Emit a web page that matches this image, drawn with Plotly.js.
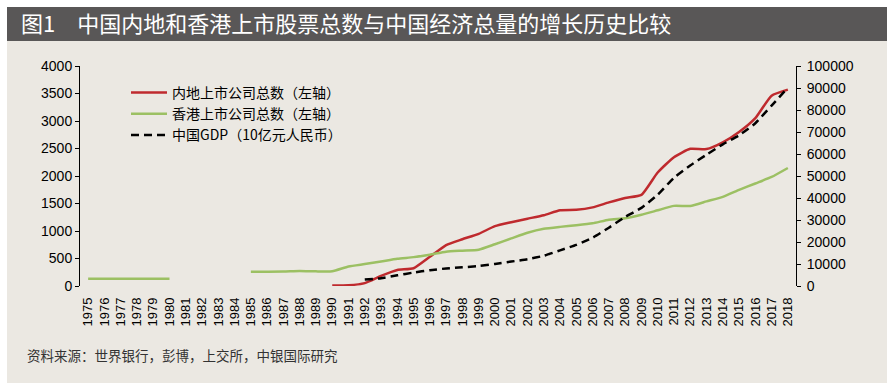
<!DOCTYPE html>
<html>
<head>
<meta charset="utf-8">
<script src="https://cdn.plot.ly/plotly-3.0.1.min.js"></script>
<style>
html,body{margin:0;padding:0;background:#ffffff;}
#chart{width:891px;height:383px;}
</style>
</head>
<body>
<div id="chart"></div>
<script>
const years = ['1975','1976','1977','1978','1979','1980','1981','1982','1983','1984','1985','1986','1987','1988','1989','1990','1991','1992','1993','1994','1995','1996','1997','1998','1999','2000','2001','2002','2003','2004','2005','2006','2007','2008','2009','2010','2011','2012','2013','2014','2015','2016','2017','2018'];

const mainlandListed = [null,null,null,null,null,null,null,null,null,null,null,null,null,null,null,
  10,14,53,183,291,323,530,745,851,949,1088,1160,1224,1287,1377,1385,1430,1520,1600,1656,2063,2342,2494,2489,2613,2800,3052,3460,3570];

const hongkongListed = [130,130,130,130,130,130,null,null,null,null,
  259,260,262,275,266,267,355,398,445,494,525,570,624,643,661,760,865,968,1040,1075,1104,1140,1204,1231,1294,1376,1457,1455,1538,1620,1747,1864,1982,2145];

const chinaGDP = [null,null,null,null,null,null,null,null,null,null,null,null,null,null,null,null,null,
  2900,3570,4860,6130,7180,7970,8520,9060,10030,11090,12170,13740,16180,18730,21940,26500,31400,35500,41500,49200,54800,59700,64400,68500,74000,82000,90100];

const seriesNames = ['内地上市公司总数（左轴）','香港上市公司总数（左轴）','中国GDP（10亿元人民币）'];
const titleText = '图1\u3000中国内地和香港上市股票总数与中国经济总量的增长历史比较';
const sourceText = '资料来源：世界银行，彭博，上交所，中银国际研究';

const FONT = 'Liberation Sans, Arial, Noto Sans CJK SC, sans-serif';
const CJK = 'Noto Sans CJK SC, sans-serif';

const traces = [
  {x: years, y: mainlandListed, name: seriesNames[0], type: 'scatter', mode: 'lines',
   line: {color: '#bf2a2e', width: 2.5, shape: 'spline', smoothing: 0.5}, connectgaps: false},
  {x: years, y: hongkongListed, name: seriesNames[1], type: 'scatter', mode: 'lines',
   line: {color: '#9cc063', width: 2.5, shape: 'spline', smoothing: 0.5}, connectgaps: false},
  {x: years, y: chinaGDP, name: seriesNames[2], type: 'scatter', mode: 'lines', yaxis: 'y2',
   line: {color: '#000000', width: 2.5, dash: '8px,5px', shape: 'spline', smoothing: 0.5}, connectgaps: false}
];

// pixel helpers for frame shapes (plot area: x 80..796, y 66..286)
const L = 80, R = 796, T = 66, B = 286;
const px = v => (v - L) / (R - L);
const py = v => (B - v) / (B - T);

const layout = {
  width: 891, height: 383,
  margin: {l: L, r: 891 - R, t: T, b: 383 - B, pad: 0},
  paper_bgcolor: '#ebe8e2',
  plot_bgcolor: 'rgba(0,0,0,0)',
  font: {family: FONT, color: '#000', size: 13},
  showlegend: true,
  title: {
    text: titleText,
    font: {family: CJK, size: 22, color: '#ffffff'},
    x: 21 / 891, xanchor: 'left', xref: 'container',
    y: 1 - 24 / 383, yanchor: 'middle', yref: 'container'
  },
  xaxis: {
    type: 'category', range: [-0.5, 43.5],
    tickangle: -90, ticks: '', showline: false, showgrid: false, zeroline: false,
    ticklabelstandoff: 8,
    tickfont: {size: 13, family: FONT, color: '#000'}
  },
  yaxis: {
    range: [0, 4000], dtick: 500, tick0: 0, tickformat: 'd',
    showline: true, linecolor: '#000', linewidth: 1,
    ticks: 'outside', ticklen: 4, tickcolor: '#000', tickwidth: 1,
    showgrid: false, zeroline: false,
    tickfont: {size: 14, family: FONT, color: '#000'}
  },
  yaxis2: {
    overlaying: 'y', side: 'right',
    range: [0, 100000], dtick: 10000, tick0: 0, tickformat: 'd',
    showline: true, linecolor: '#000', linewidth: 1,
    ticks: 'outside', ticklen: 4, tickcolor: '#000', tickwidth: 1,
    showgrid: false, zeroline: false, ticklabelstandoff: 3,
    tickfont: {size: 14, family: FONT, color: '#000'}
  },
  legend: {
    x: px(126), xanchor: 'left', y: py(77), yanchor: 'top',
    bgcolor: 'rgba(0,0,0,0)', borderwidth: 0,
    font: {family: CJK, size: 14, color: '#000'},
    itemwidth: 36, tracegroupgap: 0
  },
  shapes: [
    {type: 'rect', xref: 'paper', yref: 'paper', layer: 'below', x0: px(0), x1: px(891), y0: py(0), y1: py(7), fillcolor: '#ffffff', line: {width: 0}},
    {type: 'rect', xref: 'paper', yref: 'paper', layer: 'below', x0: px(0), x1: px(7), y0: py(0), y1: py(383), fillcolor: '#ffffff', line: {width: 0}},
    {type: 'rect', xref: 'paper', yref: 'paper', layer: 'below', x0: px(887), x1: px(891), y0: py(0), y1: py(383), fillcolor: '#ffffff', line: {width: 0}},
    {type: 'rect', xref: 'paper', yref: 'paper', layer: 'below', x0: px(7), x1: px(887), y0: py(7), y1: py(41), fillcolor: '#595757', line: {width: 0}}
  ],
  annotations: [
    {text: sourceText, xref: 'paper', yref: 'paper', x: px(25), y: py(355), xanchor: 'left', yanchor: 'middle',
     showarrow: false, font: {family: CJK, size: 13.5, color: '#333333'}}
  ]
};

Plotly.newPlot('chart', traces, layout, {displayModeBar: false, responsive: false});
</script>
</body>
</html>
